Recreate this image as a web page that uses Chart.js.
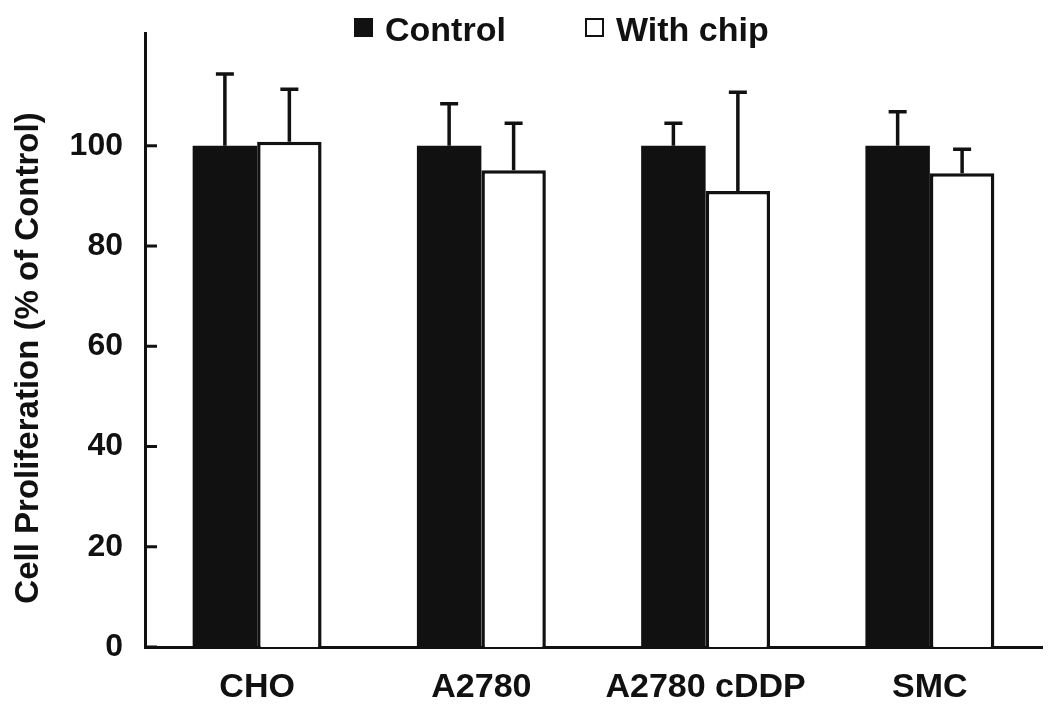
<!DOCTYPE html>
<html>
<head>
<meta charset="utf-8">
<script src="https://cdn.jsdelivr.net/npm/chart.js@4/dist/chart.umd.min.js"></script>
<style>
html,body{margin:0;padding:0;background:#fff;}
#wrap{width:1050px;height:714px;}
</style>
</head>
<body>
<div id="wrap"><canvas id="c" width="1050" height="714"></canvas></div>
<script>
const categories = ['CHO', 'A2780', 'A2780 cDDP', 'SMC'];
const controlValues = [100, 100, 100, 100];
const withChipValues = [100.8, 95.1, 91.0, 94.5];
const controlErrors = [14.3, 8.4, 4.5, 6.8];
const withChipErrors = [10.5, 9.4, 19.7, 4.8];
const yTickValues = [0, 20, 40, 60, 80, 100];
const yTitle = 'Cell Proliferation (% of Control)';
const seriesLabels = ['Control', 'With chip'];

const FONT = '"Liberation Sans", Arial, Helvetica, sans-serif';
const INK = '#111111';

const errorBars = {
  id: 'errorBars',
  afterDatasetsDraw(chart) {
    const ctx = chart.ctx;
    const y = chart.scales.y;
    ctx.save();
    ctx.strokeStyle = INK;
    ctx.lineWidth = 3.5;
    chart.data.datasets.forEach((ds, di) => {
      const meta = chart.getDatasetMeta(di);
      meta.data.forEach((bar, i) => {
        const v = ds.data[i];
        const e = ds.errors[i];
        const y0 = y.getPixelForValue(v);
        const y1 = y.getPixelForValue(v + e);
        ctx.beginPath();
        ctx.moveTo(bar.x, y0);
        ctx.lineTo(bar.x, y1);
        ctx.moveTo(bar.x - 9, y1);
        ctx.lineTo(bar.x + 9, y1);
        ctx.stroke();
      });
    });
    ctx.lineWidth = 3;
    y.ticks.forEach(t => {
      const py = y.getPixelForValue(t.value);
      ctx.beginPath();
      ctx.moveTo(y.right, py);
      ctx.lineTo(y.right + 12, py);
      ctx.stroke();
    });
    ctx.restore();
  }
};

const customLegendAndTitle = {
  id: 'customLegendAndTitle',
  afterDraw(chart) {
    const ctx = chart.ctx;
    ctx.save();
    ctx.font = 'bold 34px ' + FONT;
    ctx.textBaseline = 'alphabetic';
    ctx.textAlign = 'left';
    ctx.fillStyle = INK;
    ctx.fillRect(354, 18, 19, 19);
    ctx.fillText(seriesLabels[0], 385, 41);
    ctx.lineWidth = 2;
    ctx.strokeStyle = INK;
    ctx.fillStyle = '#fff';
    ctx.fillRect(586, 19, 17, 17);
    ctx.strokeRect(586, 19, 17, 17);
    ctx.fillStyle = INK;
    ctx.fillText(seriesLabels[1], 616, 41);
    ctx.translate(29, 358);
    ctx.rotate(-Math.PI / 2);
    ctx.font = 'bold 33px ' + FONT;
    ctx.textAlign = 'center';
    ctx.textBaseline = 'middle';
    ctx.fillText(yTitle, 0, 0);
    ctx.restore();
  }
};

new Chart(document.getElementById('c'), {
  type: 'bar',
  data: {
    labels: categories,
    datasets: [
      {
        label: seriesLabels[0],
        data: controlValues,
        errors: controlErrors,
        backgroundColor: INK,
        borderWidth: 0
      },
      {
        label: seriesLabels[1],
        data: withChipValues,
        errors: withChipErrors,
        backgroundColor: '#ffffff',
        borderColor: INK,
        borderWidth: 3.5
      }
    ]
  },
  options: {
    responsive: false,
    animation: false,
    devicePixelRatio: 1,
    layout: { padding: { top: 33, right: 8, left: 0, bottom: 0 } },
    datasets: { bar: { categoryPercentage: 0.575, barPercentage: 1.0 } },
    plugins: { legend: { display: false }, tooltip: { enabled: false } },
    scales: {
      x: {
        grid: { display: false, drawTicks: false },
        border: { display: true, color: INK, width: 3 },
        ticks: { color: INK, font: { family: FONT, size: 34, weight: 'bold' }, padding: 20, maxRotation: 0, autoSkip: false },
        afterFit(s) { s.height = 67; s.paddingLeft = 0; s.paddingRight = 0; }
      },
      y: {
        min: 0,
        max: 122.5,
        grid: { display: false, drawTicks: false },
        border: { display: true, color: INK, width: 3 },
        ticks: { color: INK, font: { family: FONT, size: 32, weight: 'bold' }, padding: 22, stepSize: 20 },
        afterBuildTicks(s) { s.ticks = yTickValues.map(v => ({ value: v })); },
        afterFit(s) { s.width = 145; s.paddingTop = 0; s.paddingBottom = 0; }
      }
    }
  },
  plugins: [errorBars, customLegendAndTitle]
});
</script>
</body>
</html>
